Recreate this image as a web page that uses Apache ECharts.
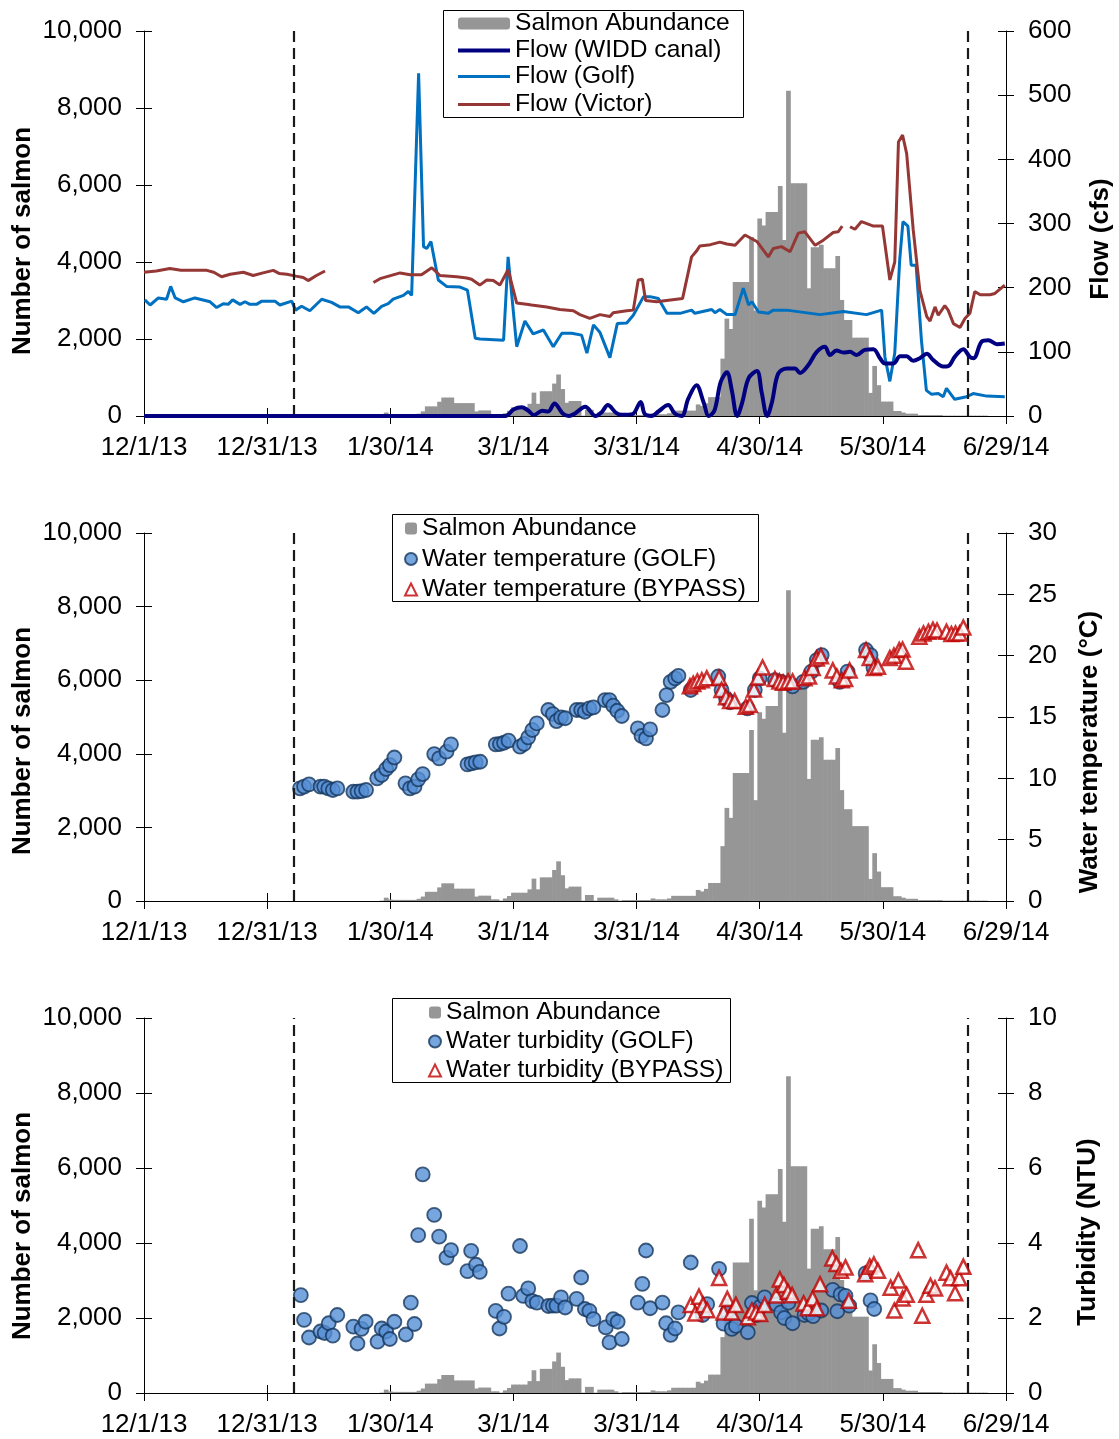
<!DOCTYPE html>
<html><head><meta charset="utf-8">
<script src="https://cdn.jsdelivr.net/npm/echarts@6/dist/echarts.min.js"></script>
<style>html,body{margin:0;padding:0;background:#fff}#c{width:1119px;height:1439px}</style>
</head><body><div id="c"></div>
<script>
const xTickLabels = ['12/1/13','12/31/13','1/30/14','3/1/14','3/31/14','4/30/14','5/30/14','6/29/14'];
const markerDays = [36.5, 200.7];
const abundanceStartDay = 55;
const abundance = [
 0,0,0,10,90,40,30,30,30,30,30,30,60,120,250,250,250,370,480,480,
 480,335,335,335,335,335,120,145,145,145,45,45,10,70,135,225,225,225,225,317,
 607,317,643,643,643,842,1078,700,344,390,390,390,10,163,163,10,90,90,90,90,
 45,10,25,25,25,25,25,25,25,70,45,45,45,70,140,140,140,140,140,140,
 300,260,330,490,490,490,1490,2530,2260,3480,3480,3480,3480,4650,2740,5130,4950,5300,5300,5300,
 5975,4570,8445,6045,6045,6045,6045,3317,4380,4380,4450,3836,3836,3836,4157,3014,2494,2494,2035,2035,
 2035,2035,600,1300,800,375,375,375,130,130,90,60,60,60,25,25,25,25,25,25,
 10,10,10,10,10,10,10,10,10,10,10
];
const flowWidd = [[0,0],[88,0],[90,10],[92,13.5],[93.5,9],[95,1.5],[97,8],[98.5,7],[100,19.5],[102,4],[103.5,0],[105,4],[107.5,14.5],[110,0],[111.5,6],[113,17],[115,5],[116.5,2],[119,3],[121,22],[122,3],[123.7,0],[125.3,7],[127.7,17],[129.3,4],[131,0],[132.6,27],[134.6,48],[136.3,22],[137.6,0],[139,9],[140.5,53],[142,68],[143.2,40],[144.5,0],[145.7,20],[147.3,59],[149.3,70],[150.5,36],[151.8,0],[153,22],[154.5,66],[156.6,74],[158.6,74],[159.8,67],[161.8,79],[163.9,100],[165.9,108],[167.1,95],[168.7,102],[170.4,99],[172,100],[173.6,95],[175.6,103],[177.7,104],[179.3,90],[180.5,82],[182.6,82],[184.2,93],[185.8,93],[187.4,86],[189,90],[190.7,97],[192.3,87],[194.7,77],[196,78],[197.6,93],[199.6,104],[201.2,92],[202.1,90],[204.1,116],[205.7,118],[207.8,112],[209.7,113]];
const flowGolf = [[0.2,181],[1.5,173],[3.5,184],[5.5,182],[6.5,202],[7.6,184],[9.6,178],[12.4,184],[16.1,178],[17.7,169],[19.3,175],[20.5,174],[21.6,181],[23.4,174],[24.6,178],[25.8,174],[27.4,174],[28.7,179],[31.9,179],[33.1,173],[36,179],[36.9,165],[38.4,171],[40.4,164],[43.3,182],[45.7,177],[47.7,170],[49.8,170],[52.2,161],[54.2,170],[56,160],[57.9,171],[59.5,175],[60.7,182],[63.2,188],[64.4,194],[65.2,188],[66.9,534],[68.1,264],[68.9,261],[69.9,272],[71.7,212],[73.7,202],[77,201],[78.8,196],[80.7,121],[81.9,120],[87.6,118],[88.7,248],[90.8,108],[92.8,148],[94.8,128],[97.3,134],[99.7,108],[101.8,129],[104.2,129],[106.6,126],[107.9,98],[109.5,142],[111.1,130],[113.5,91],[115.3,144],[117.6,145],[119.2,157],[121.7,186],[123.3,186],[125.3,183],[127.4,160],[130.6,160],[133.4,165],[134.2,160],[138.3,166],[139.1,161],[140.3,166],[142,158],[144,158],[146,199],[147.3,173],[148.1,178],[149.7,162],[152.1,160],[153.3,165],[156.6,165],[164.7,158],[170.4,163],[176,158],[179.7,165],[180.5,92],[181.7,54],[182.9,98],[184.1,243],[184.9,303],[186.1,296],[186.9,235],[188.1,235],[189.4,118],[190.6,40],[191.8,34],[193.5,35],[194.7,30],[195.5,43],[197.5,26],[200.4,30],[202,35],[205.3,31],[209.7,30]];
const flowVictor = [[0,224],[3,226],[6.3,230],[9,227],[12,227],[15.3,227],[17,224],[18.9,217],[21,221],[24.2,224],[26.6,219],[29,223],[31.5,227],[33,222],[34.8,221],[37,218],[38.8,216],[40,211],[42,219],[44.1,226],[50,null],[55.9,208],[57.5,214],[60.7,220],[62.4,223],[64.8,220],[67.6,220],[70.1,231],[72.1,219],[76.2,217],[78.6,215],[79.8,213],[81.8,204],[83.5,212],[85.1,211],[86.7,204],[88.7,228],[90.8,176],[93.2,174],[94.4,173],[98.1,170],[101.3,166],[104.6,164],[106.2,158],[108.6,152],[111.1,158],[113.5,155],[114.3,161],[117.6,164],[119.2,165],[120.4,212],[121.4,213],[122.2,180],[124.9,178],[127.3,180],[131.2,183],[133.4,248],[134.6,257],[135.4,265],[138,267],[140.3,271],[142,268],[144,266],[146.4,282],[149.3,272],[152.1,248],[153.3,261],[155.3,264],[157.4,256],[159.4,285],[161,287],[163.5,266],[165.5,274],[167.9,286],[169.1,287],[170.1,296],[171,null],[172,295],[173.2,291],[174.8,303],[177.7,296],[179.9,296],[181.7,212],[182.9,240],[183.8,427],[184.8,438],[185.8,409],[187.4,290],[189,196],[190.7,155],[191.5,148],[192.7,170],[193.5,157],[195.1,172],[195.9,165],[197.2,144],[198.8,138],[200,152],[201.2,160],[202.4,194],[203.7,189],[206.1,189],[207.3,191],[209.7,204]];
const tempGolf = [[38,9.18],[39,9.32],[40.2,9.51],[43,9.32],[43.9,9.32],[44.9,9.18],[46,9.05],[47.1,9.18],[51,8.91],[52,8.91],[53,8.96],[54.1,9.05],[56.8,10.0],[57.9,10.27],[59,10.76],[59.9,11.08],[61,11.7],[63.7,9.59],[64.8,9.18],[65.9,9.32],[66.8,9.92],[67.9,10.35],[70.7,11.98],[71.9,11.63],[73.7,12.17],[74.8,12.77],[78.8,11.14],[79.8,11.22],[80.8,11.3],[81.9,11.35],[85.7,12.77],[86.7,12.8],[87.7,12.9],[88.8,13.07],[91.6,12.58],[92.6,12.8],[93.6,13.34],[94.6,13.94],[95.7,14.48],[98.5,15.57],[99.6,15.24],[100.5,14.67],[101.6,14.97],[102.6,14.9],[105.4,15.57],[106.5,15.57],[107.4,15.43],[108.5,15.7],[109.5,15.78],[112.3,16.38],[113.4,16.38],[114.3,15.92],[115.3,15.51],[116.4,15.08],[120.3,14.07],[121.2,13.45],[122.3,13.26],[123.3,13.99],[126.3,15.57],[127.3,16.79],[128.3,17.87],[129.4,18.15],[130.2,18.36],[133.2,17.2],[139.9,18.3],[140.7,17.2],[141.8,16.5],[142.8,16.2],[147,15.7],[148.8,17.2],[150,18.15],[153.7,18.0],[155.3,17.87],[158,17.5],[160.6,17.87],[162.6,18.7],[163.9,19.64],[165.1,20.05],[169.5,17.87],[171.4,18.7],[175.9,20.46],[177,20.05],[177.7,19.04]];
const tempBypass = [[133,17.5],[133.8,17.7],[134.8,17.9],[135.9,18.0],[137.1,18.15],[140.1,18.2],[140.7,17.2],[141.8,16.6],[142.8,16.3],[143.9,16.3],[146.6,15.84],[147.6,15.98],[148.6,17.25],[149.6,18.23],[150.7,19.04],[153.7,18.1],[154.8,17.9],[155.7,17.8],[156.9,17.9],[158,17.9],[160.9,18.15],[162,18.3],[162.9,19.0],[163.9,19.77],[164.9,19.96],[167.8,18.8],[168.8,18.3],[170,18.0],[170.8,18.1],[171.9,18.8],[175.9,20.46],[176.8,19.8],[177.8,19.0],[178.8,19.1],[181.7,19.8],[182.7,20.0],[184,20.46],[184.8,20.5],[185.6,19.5],[188.9,21.54],[189.9,21.8],[191.1,21.95],[192.2,22.1],[193.2,22.05],[195.5,21.95],[196.7,21.77],[197.7,21.8],[198.7,21.8],[199.6,22.3]];
const turbGolf = [[38.2,2.61],[39,1.95],[40.2,1.48],[43,1.64],[44,1.6],[45,1.86],[46,1.53],[47.1,2.08],[51,1.77],[52,1.32],[53,1.71],[54,1.9],[56.9,1.37],[57.9,1.72],[59,1.64],[59.9,1.44],[61,1.9],[63.8,1.56],[65,2.41],[65.9,1.84],[66.8,4.21],[67.9,5.83],[70.7,4.75],[71.9,4.17],[73.7,3.61],[74.8,3.81],[78.8,3.25],[79.7,3.79],[80.9,3.42],[81.8,3.23],[85.7,2.19],[86.6,1.72],[87.7,2.03],[88.8,2.65],[91.6,3.92],[92.4,2.59],[93.6,2.79],[94.6,2.45],[95.7,2.41],[98.5,2.32],[99.6,2.33],[100.5,2.33],[101.6,2.55],[102.6,2.28],[105.4,2.51],[106.5,3.08],[107.4,2.24],[108.5,2.19],[109.5,1.97],[112.5,1.75],[113.4,1.35],[114.3,1.97],[115.4,1.9],[116.4,1.44],[120.3,2.41],[121.4,2.91],[122.3,3.8],[123.3,2.26],[126.3,2.41],[127.2,1.86],[128.3,1.55],[129.4,1.72],[130.2,2.15],[133.2,3.48],[136.1,2.08],[137.2,2.37],[140.1,3.31],[141.2,1.85],[142.1,2.16],[143.2,1.71],[144.2,1.79],[147.1,1.62],[148.1,2.4],[149.3,2.08],[150.1,2.3],[151.2,2.55],[154.1,2.36],[155.2,2.15],[156,2.0],[157,2.41],[158,1.86],[160.9,2.08],[161.9,2.12],[163,2.05],[165,2.2],[167.8,2.75],[168.9,2.18],[169.7,2.63],[170.9,2.59],[171.8,2.33],[175.8,3.19],[177,2.47],[177.9,2.24]];
const turbBypass = [[133.2,2.35],[134.3,2.12],[135.2,2.57],[136.2,2.35],[137.2,2.21],[140.1,3.07],[141.2,2.15],[142.1,2.51],[143.2,2.15],[144.2,2.35],[147.1,2.02],[148.1,2.2],[149.1,2.15],[150.1,2.11],[151.2,2.35],[154,2.6],[154.9,3.03],[155.9,2.88],[156.9,2.7],[157.9,2.61],[160.7,2.39],[161.7,2.26],[162.9,2.52],[163.9,2.26],[164.7,2.9],[167.7,3.59],[168.7,3.44],[169.8,3.26],[170.9,3.35],[171.7,2.46],[175.7,3.17],[176.8,3.37],[177.8,3.43],[178.8,3.26],[181.9,2.81],[182.8,2.2],[183.8,3.0],[184.8,2.52],[185.8,2.62],[188.6,3.81],[189.6,2.06],[190.6,2.62],[191.6,2.86],[192.7,2.79],[195.5,3.21],[196.5,3.06],[197.6,2.66],[198.6,3.06],[199.6,3.37]];

const FONT = '"Liberation Sans", Arial, sans-serif';
const gridsPos = [{top:31,height:385},{top:533,height:368},{top:1018,height:375}];
const rightAxes = [{max:600,interval:100},{max:30,interval:5},{max:10,interval:2}];
const abundanceData = abundance.map((v,i)=>[abundanceStartDay+i, v]);
const grid = gridsPos.map(g=>({left:144, right:113, top:g.top, height:g.height}));
const lineBlack = {show:true, onZero:false, lineStyle:{color:'#000', width:1}};
const noLine = {show:false, onZero:false};
const tickStyle = {color:'#000', width:1};

const xAxis = [];
[0,1,2].forEach(i=>xAxis.push({
  type:'value', gridIndex:i, position:'bottom', min:0, max:210, interval:30,
  axisLine:lineBlack, axisTick:{show:true, length:8, lineStyle:tickStyle},
  splitLine:{show:false},
  axisLabel:{show:true, showMinLabel:true, showMaxLabel:true, margin:19, color:'#000', fontSize:26, fontFamily:FONT,
    formatter:v=>xTickLabels[Math.round(v/30)]}
}));
[0,1,2].forEach(i=>xAxis.push({
  type:'value', gridIndex:i, min:0, max:210, interval:30, position:'bottom',
  axisLine:noLine, axisTick:{show:true, inside:true, length:8, lineStyle:tickStyle},
  splitLine:{show:false}, axisLabel:{show:false}
}));
const yAxis = [];
[0,1,2].forEach(i=>{
  yAxis.push({type:'value', gridIndex:i, position:'left', min:0, max:10000, interval:2000,
    axisLine:lineBlack, axisTick:{show:true, length:8, lineStyle:tickStyle}, splitLine:{show:false},
    axisLabel:{margin:22, color:'#000', fontSize:26, fontFamily:FONT, formatter:v=>v.toLocaleString('en-US')}});
  yAxis.push({type:'value', gridIndex:i, position:'right', min:0, max:rightAxes[i].max, interval:rightAxes[i].interval,
    axisLine:lineBlack, axisTick:{show:true, length:8, lineStyle:tickStyle}, splitLine:{show:false},
    axisLabel:{margin:22, color:'#000', fontSize:26, fontFamily:FONT}});
});
[0,1,2].forEach(i=>{
  yAxis.push({type:'value', gridIndex:i, position:'left', min:0, max:10000, interval:2000,
    axisLine:noLine, axisTick:{show:true, inside:true, length:8, lineStyle:tickStyle}, splitLine:{show:false}, axisLabel:{show:false}});
  yAxis.push({type:'value', gridIndex:i, position:'right', min:0, max:rightAxes[i].max, interval:rightAxes[i].interval,
    axisLine:noLine, axisTick:{show:true, inside:true, length:8, lineStyle:tickStyle}, splitLine:{show:false}, axisLabel:{show:false}});
});

function barSeries(i){
  return {name:'Salmon Abundance', type:'bar', xAxisIndex:i, yAxisIndex:i*2, data:abundanceData,
    barWidth:4.7, itemStyle:{color:'#969696'}, z:1,
    markLine:{silent:true, symbol:['none','none'], label:{show:false},
      lineStyle:{color:'#1a1a1a', type:[11,6], width:2.2}, data:markerDays.map(d=>({xAxis:d}))}};
}
const circleStyle = {color:'#558ED5', borderColor:'#17375E', borderWidth:1.8};
const triStyle = {color:'#ffffff', borderColor:'#C00000', borderWidth:2.5};
const series = [
  barSeries(0),
  {name:'Flow (WIDD canal)', type:'line', xAxisIndex:0, yAxisIndex:1, data:flowWidd, smooth:0.35, symbol:'none',
    lineStyle:{color:'#000080', width:4}, itemStyle:{color:'#000080'}, z:5},
  {name:'Flow (Golf)', type:'line', xAxisIndex:0, yAxisIndex:1, data:flowGolf, symbol:'none',
    lineStyle:{color:'#0070C0', width:3}, itemStyle:{color:'#0070C0'}, z:4},
  {name:'Flow (Victor)', type:'line', xAxisIndex:0, yAxisIndex:1, data:flowVictor, symbol:'none',
    lineStyle:{color:'#953735', width:3}, itemStyle:{color:'#953735'}, z:4},
  barSeries(1),
  {name:'Water temperature (GOLF)', type:'scatter', xAxisIndex:1, yAxisIndex:3, data:tempGolf,
    symbol:'circle', symbolSize:14, itemStyle:circleStyle, z:4},
  {name:'Water temperature (BYPASS)', type:'scatter', xAxisIndex:1, yAxisIndex:3, data:tempBypass,
    symbol:'triangle', symbolSize:14, itemStyle:triStyle, z:5},
  barSeries(2),
  {name:'Water turbidity (GOLF)', type:'scatter', xAxisIndex:2, yAxisIndex:5, data:turbGolf,
    symbol:'circle', symbolSize:14, itemStyle:circleStyle, z:4},
  {name:'Water turbidity (BYPASS)', type:'scatter', xAxisIndex:2, yAxisIndex:5, data:turbBypass,
    symbol:'triangle', symbolSize:14, itemStyle:triStyle, z:5}
];

const legendText = {fontSize:24.6, color:'#000', fontFamily:FONT, lineHeight:24};
function leg(left, top, names, w, h, gap, icon){
  const o = {left:left, top:top, orient:'vertical', itemWidth:w, itemHeight:h, itemGap:gap, padding:0,
    textStyle:legendText, selectedMode:false, data:names};
  if (icon) o.icon = icon;
  return o;
}
const legend = [
  leg(458, 11, ['Salmon Abundance'], 52, 12, 3),
  leg(458, 38, ['Flow (WIDD canal)'], 52, 4, 3, 'rect'),
  leg(458, 64, ['Flow (Golf)','Flow (Victor)'], 52, 3, 3, 'rect'),
  leg(404, 516, ['Salmon Abundance','Water temperature (GOLF)','Water temperature (BYPASS)'], 12, 12, 5.5),
  leg(428, 1000, ['Salmon Abundance','Water turbidity (GOLF)','Water turbidity (BYPASS)'], 12, 12, 4)
];

function vText(text, x, y){
  return {type:'text', x:x, y:y, rotation:Math.PI/2, silent:true,
    style:{text:text, fill:'#000', font:'bold 26px ' + FONT, align:'center', verticalAlign:'middle'}};
}
function box(x, y, w, h){
  return {type:'rect', silent:true, shape:{x:x+0.5, y:y+0.5, width:w, height:h},
    style:{fill:null, stroke:'#000', lineWidth:1}};
}
const graphic = [
  box(443, 10, 300, 107), box(392, 514, 366, 87), box(392, 998, 338, 84),
  vText('Number of salmon', 23, 241),
  vText('Number of salmon', 23, 741),
  vText('Number of salmon', 23, 1226),
  vText('Flow (cfs)', 1101, 239),
  vText('Water temperature (°C)', 1090, 752),
  vText('Turbidity (NTU)', 1088, 1232)
];

const chart = echarts.init(document.getElementById('c'), null, {renderer:'canvas'});
chart.setOption({animation:false, backgroundColor:'#fff', textStyle:{fontFamily:FONT},
  grid, xAxis, yAxis, series, legend, graphic});
</script></body></html>
